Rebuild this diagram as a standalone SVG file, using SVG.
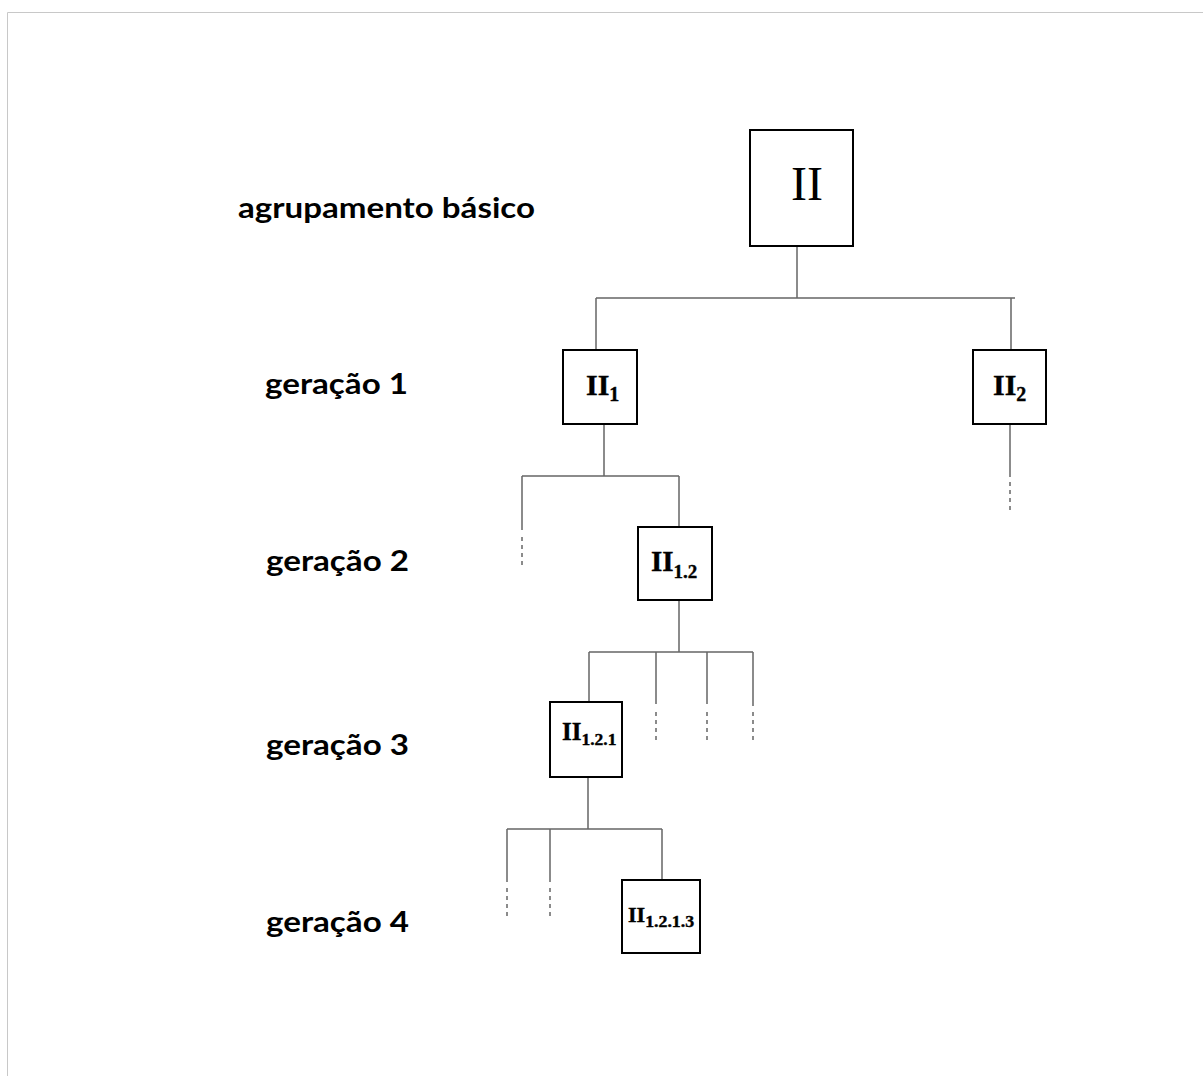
<svg xmlns="http://www.w3.org/2000/svg" width="1203" height="1076" viewBox="0 0 1203 1076">
<style>
.lbl{font-family:Lato,"Open Sans","Liberation Sans",sans-serif;font-weight:bold;font-size:29px;fill:#000}
.box{fill:#fff;stroke:#000;stroke-width:2}
.nt{font-family:"Liberation Serif","Times New Roman",serif;font-weight:bold;fill:#000;stroke:#000;stroke-width:0.4}
.ln{stroke:#666;stroke-width:1.5;fill:none}
.ds{stroke:#666;stroke-width:1.5;fill:none;stroke-dasharray:4,4}
</style>
<rect width="1203" height="1076" fill="#fff"/>
<path d="M7.5,1076 V12.5 H1203" fill="none" stroke="#c8c8c8" stroke-width="1"/>
<g id="labels">
<text class="lbl" x="238" y="218" textLength="297" lengthAdjust="spacingAndGlyphs">agrupamento básico</text>
<text class="lbl" x="265" y="394" textLength="143" lengthAdjust="spacingAndGlyphs">geração 1</text>
<text class="lbl" x="266" y="571" textLength="143" lengthAdjust="spacingAndGlyphs">geração 2</text>
<text class="lbl" x="266" y="755" textLength="143" lengthAdjust="spacingAndGlyphs">geração 3</text>
<text class="lbl" x="266" y="932" textLength="143" lengthAdjust="spacingAndGlyphs">geração 4</text>
</g>
<g id="connectors">
<path class="ln" d="M797,247 V298 M596,298 H1015 M596,298 V350 M1011,298 V350"/>
<path class="ln" d="M1010,424 V477"/><path class="ds" d="M1010,482 V514"/>
<path class="ln" d="M604,424 V476 M522,476 H679 M522,476 V530 M679,476 V527"/><path class="ds" d="M522,537 V567"/>
<path class="ln" d="M679,600 V652 M589,652 H753 M589,652 V702 M656,652 V704 M707,652 V704 M753,652 V706"/>
<path class="ds" d="M656,712 V742 M707,712 V742 M753,712 V742"/>
<path class="ln" d="M588,777 V829 M507,829 H662 M507,829 V882 M550,829 V882 M662,829 V880"/>
<path class="ds" d="M507,888 V920 M550,888 V920"/>
</g>
<g id="node-II">
<rect class="box" x="750" y="130" width="103" height="116"/>
<text x="807" y="200" font-family="Liberation Serif,serif" font-size="48" text-anchor="middle">II</text>
</g>
<g id="node-II1">
<rect class="box" x="563" y="350" width="74" height="74"/>
<text class="nt" x="586" y="395" font-size="30">II<tspan font-size="20" dy="6">1</tspan></text>
</g>
<g id="node-II2">
<rect class="box" x="973" y="350" width="73" height="74"/>
<text class="nt" x="993" y="395" font-size="30">II<tspan font-size="20" dy="6">2</tspan></text>
</g>
<g id="node-II12">
<rect class="box" x="638" y="527" width="74" height="73"/>
<text class="nt" x="651" y="571" font-size="29">II<tspan font-size="19" dy="7">1.2</tspan></text>
</g>
<g id="node-II121">
<rect class="box" x="550" y="702" width="72" height="75"/>
<text class="nt" x="562" y="740" font-size="25">II<tspan font-size="17" dy="5" textLength="35" lengthAdjust="spacingAndGlyphs">1.2.1</tspan></text>
</g>
<g id="node-II1213">
<rect class="box" x="622" y="880" width="78" height="73"/>
<text class="nt" x="628" y="922" font-size="22">II<tspan font-size="16" dy="5" textLength="49" lengthAdjust="spacingAndGlyphs">1.2.1.3</tspan></text>
</g>
</svg>
